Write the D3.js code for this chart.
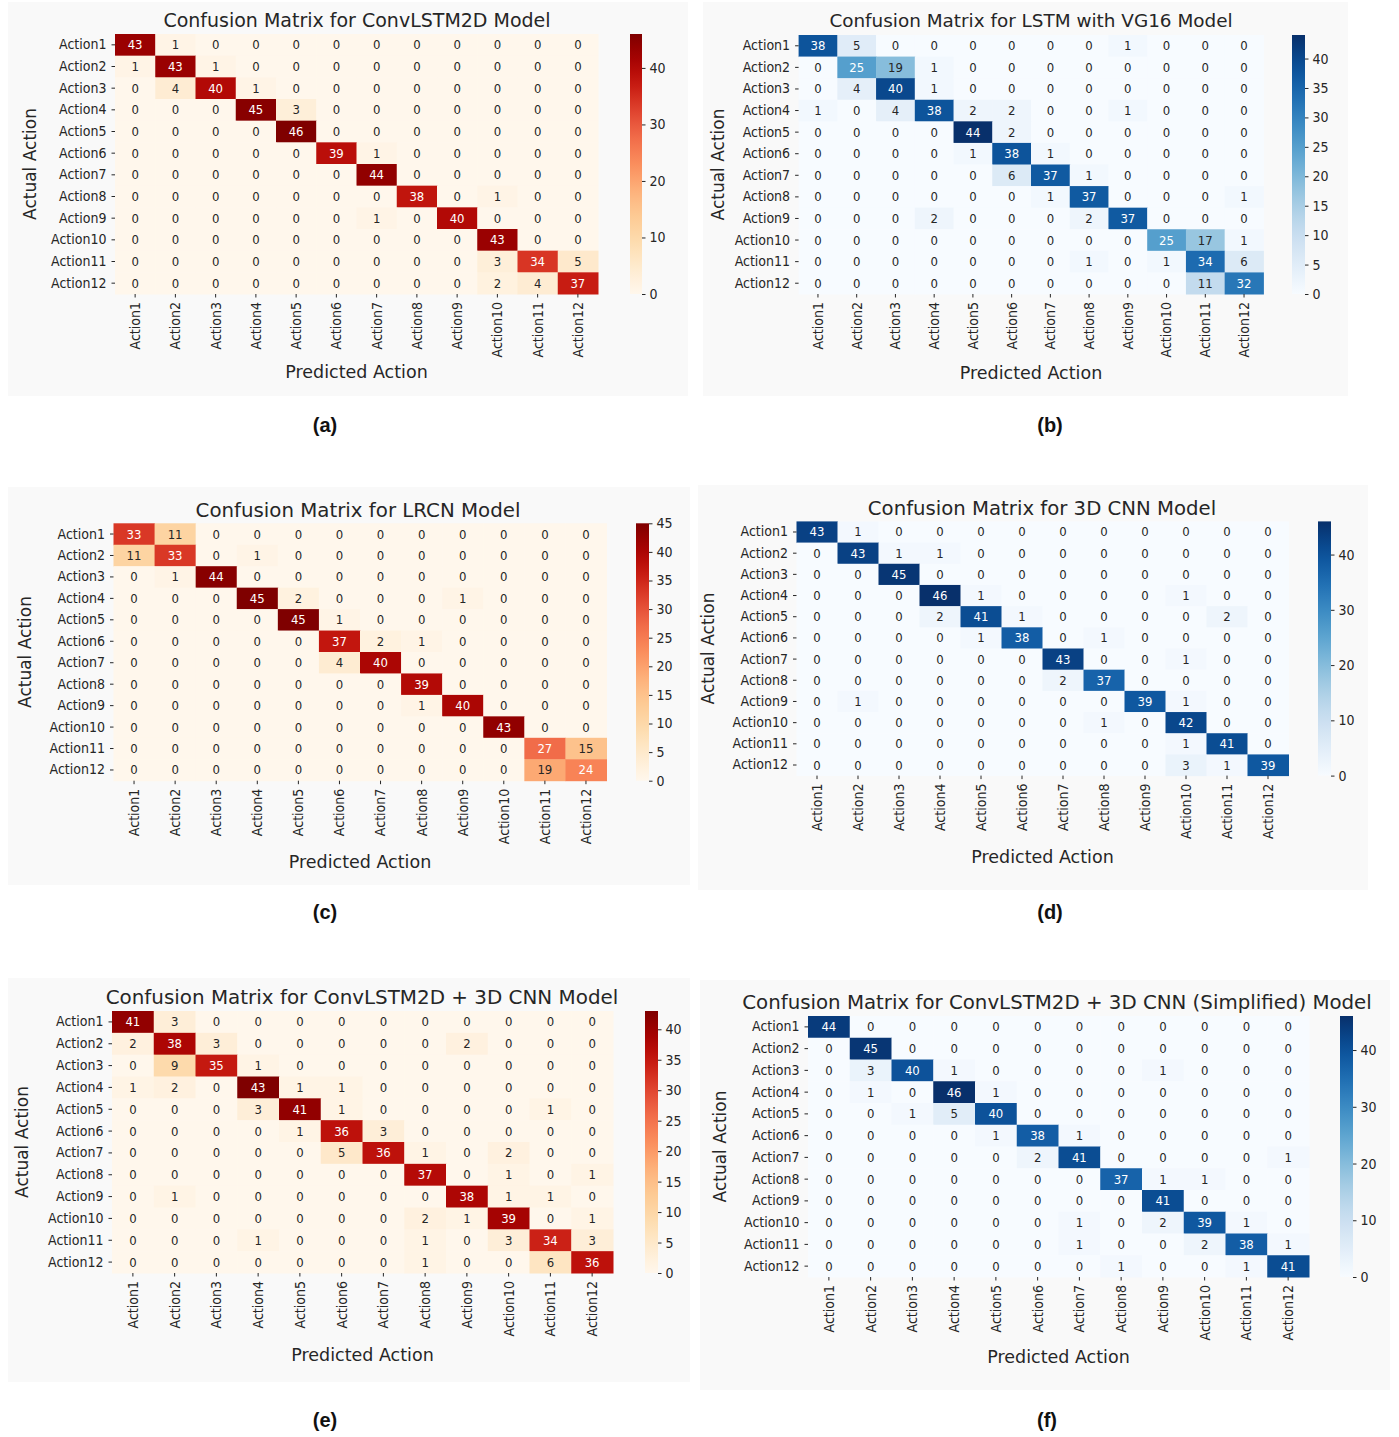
<!DOCTYPE html>
<html lang="en">
<head>
<meta charset="UTF-8">
<title>Confusion Matrices</title>
<script src="https://d3js.org/d3.v7.min.js"></script>
<style>
  body { margin: 0; background: #fff; }
  text { font-family: "DejaVu Sans", sans-serif; fill: #262626; }
  .cond { font-family: "DejaVu Sans Condensed", "DejaVu Sans", sans-serif; font-stretch: condensed; }
  .caption { font-family: "Liberation Sans", Arial, sans-serif; font-weight: bold; font-size: 20px; fill: #111; }
</style>
</head>
<body>
<svg id="fig" width="1399" height="1437"></svg>
<script>
// labels
const actions = ["Action1", "Action2", "Action3", "Action4", "Action5", "Action6",
                 "Action7", "Action8", "Action9", "Action10", "Action11", "Action12"];

// confusion matrices (rows = actual, cols = predicted)
const matConvLSTM = [
  [43,1,0,0,0,0,0,0,0,0,0,0],
  [1,43,1,0,0,0,0,0,0,0,0,0],
  [0,4,40,1,0,0,0,0,0,0,0,0],
  [0,0,0,45,3,0,0,0,0,0,0,0],
  [0,0,0,0,46,0,0,0,0,0,0,0],
  [0,0,0,0,0,39,1,0,0,0,0,0],
  [0,0,0,0,0,0,44,0,0,0,0,0],
  [0,0,0,0,0,0,0,38,0,1,0,0],
  [0,0,0,0,0,0,1,0,40,0,0,0],
  [0,0,0,0,0,0,0,0,0,43,0,0],
  [0,0,0,0,0,0,0,0,0,3,34,5],
  [0,0,0,0,0,0,0,0,0,2,4,37]
];
const matVGG = [
  [38,5,0,0,0,0,0,0,1,0,0,0],
  [0,25,19,1,0,0,0,0,0,0,0,0],
  [0,4,40,1,0,0,0,0,0,0,0,0],
  [1,0,4,38,2,2,0,0,1,0,0,0],
  [0,0,0,0,44,2,0,0,0,0,0,0],
  [0,0,0,0,1,38,1,0,0,0,0,0],
  [0,0,0,0,0,6,37,1,0,0,0,0],
  [0,0,0,0,0,0,1,37,0,0,0,1],
  [0,0,0,2,0,0,0,2,37,0,0,0],
  [0,0,0,0,0,0,0,0,0,25,17,1],
  [0,0,0,0,0,0,0,1,0,1,34,6],
  [0,0,0,0,0,0,0,0,0,0,11,32]
];
const matLRCN = [
  [33,11,0,0,0,0,0,0,0,0,0,0],
  [11,33,0,1,0,0,0,0,0,0,0,0],
  [0,1,44,0,0,0,0,0,0,0,0,0],
  [0,0,0,45,2,0,0,0,1,0,0,0],
  [0,0,0,0,45,1,0,0,0,0,0,0],
  [0,0,0,0,0,37,2,1,0,0,0,0],
  [0,0,0,0,0,4,40,0,0,0,0,0],
  [0,0,0,0,0,0,0,39,0,0,0,0],
  [0,0,0,0,0,0,0,1,40,0,0,0],
  [0,0,0,0,0,0,0,0,0,43,0,0],
  [0,0,0,0,0,0,0,0,0,0,27,15],
  [0,0,0,0,0,0,0,0,0,0,19,24]
];
const mat3DCNN = [
  [43,1,0,0,0,0,0,0,0,0,0,0],
  [0,43,1,1,0,0,0,0,0,0,0,0],
  [0,0,45,0,0,0,0,0,0,0,0,0],
  [0,0,0,46,1,0,0,0,0,1,0,0],
  [0,0,0,2,41,1,0,0,0,0,2,0],
  [0,0,0,0,1,38,0,1,0,0,0,0],
  [0,0,0,0,0,0,43,0,0,1,0,0],
  [0,0,0,0,0,0,2,37,0,0,0,0],
  [0,1,0,0,0,0,0,0,39,1,0,0],
  [0,0,0,0,0,0,0,1,0,42,0,0],
  [0,0,0,0,0,0,0,0,0,1,41,0],
  [0,0,0,0,0,0,0,0,0,3,1,39]
];
const matHybrid = [
  [41,3,0,0,0,0,0,0,0,0,0,0],
  [2,38,3,0,0,0,0,0,2,0,0,0],
  [0,9,35,1,0,0,0,0,0,0,0,0],
  [1,2,0,43,1,1,0,0,0,0,0,0],
  [0,0,0,3,41,1,0,0,0,0,1,0],
  [0,0,0,0,1,36,3,0,0,0,0,0],
  [0,0,0,0,0,5,36,1,0,2,0,0],
  [0,0,0,0,0,0,0,37,0,1,0,1],
  [0,1,0,0,0,0,0,0,38,1,1,0],
  [0,0,0,0,0,0,0,2,1,39,0,1],
  [0,0,0,1,0,0,0,1,0,3,34,3],
  [0,0,0,0,0,0,0,1,0,0,6,36]
];
const matSimplified = [
  [44,0,0,0,0,0,0,0,0,0,0,0],
  [0,45,0,0,0,0,0,0,0,0,0,0],
  [0,3,40,1,0,0,0,0,1,0,0,0],
  [0,1,0,46,1,0,0,0,0,0,0,0],
  [0,0,1,5,40,0,0,0,0,0,0,0],
  [0,0,0,0,1,38,1,0,0,0,0,0],
  [0,0,0,0,0,2,41,0,0,0,0,1],
  [0,0,0,0,0,0,0,37,1,1,0,0],
  [0,0,0,0,0,0,0,0,41,0,0,0],
  [0,0,0,0,0,0,1,0,2,39,1,0],
  [0,0,0,0,0,0,1,0,0,2,38,1],
  [0,0,0,0,0,0,0,1,0,0,1,41]
];

// colorbar tick values
const ticksBy10 = [0, 10, 20, 30, 40];
const ticksBy5 = [0, 5, 10, 15, 20, 25, 30, 35, 40];
const ticksBy5to45 = [0, 5, 10, 15, 20, 25, 30, 35, 40, 45];

const titles = [
  "Confusion Matrix for ConvLSTM2D Model",
  "Confusion Matrix for LSTM with VG16 Model",
  "Confusion Matrix for LRCN Model",
  "Confusion Matrix for 3D CNN Model",
  "Confusion Matrix for ConvLSTM2D + 3D CNN Model",
  "Confusion Matrix for ConvLSTM2D + 3D CNN (Simplified) Model"
];
const captions = ["(a)", "(b)", "(c)", "(d)", "(e)", "(f)"];

// panel layout
const panels = [
  { mat: matConvLSTM, ticks: ticksBy10, cmap: d3.interpolateOrRd,
    bg: [8, 2, 680, 394], left: 115, right: 598, top: 34, bottom: 294, cbx: 630, cbw: 12,
    titleX: 357, titleY: 27, titleSize: 19, yTitleX: 30, xTitleY: 378, capX: 325, capY: 432 },
  { mat: matVGG, ticks: ticksBy5, cmap: d3.interpolateBlues,
    bg: [703, 2, 645, 394], left: 798.6, right: 1263.4, top: 35, bottom: 294, cbx: 1292, cbw: 13,
    titleX: 1031, titleY: 27, titleSize: 18.4, yTitleX: 718, xTitleY: 379, capX: 1050, capY: 432 },
  { mat: matLRCN, ticks: ticksBy5to45, cmap: d3.interpolateOrRd,
    bg: [8, 487, 682, 398], left: 113.5, right: 606.5, top: 523.3, bottom: 780.7, cbx: 636, cbw: 13,
    titleX: 358, titleY: 517, titleSize: 19.8, yTitleX: 25, xTitleY: 868, capX: 325, capY: 919 },
  { mat: mat3DCNN, ticks: ticksBy10, cmap: d3.interpolateBlues,
    bg: [698, 485, 670, 405], left: 796.5, right: 1288.5, top: 521.4, bottom: 775.6, cbx: 1318, cbw: 13,
    titleX: 1042, titleY: 515, titleSize: 19.7, yTitleX: 708, xTitleY: 863, capX: 1050, capY: 919 },
  { mat: matHybrid, ticks: ticksBy5, cmap: d3.interpolateOrRd,
    bg: [8, 978, 682, 404], left: 112, right: 613, top: 1011, bottom: 1273, cbx: 645, cbw: 13,
    titleX: 362, titleY: 1004, titleSize: 19.9, yTitleX: 22, xTitleY: 1361, capX: 325, capY: 1427 },
  { mat: matSimplified, ticks: ticksBy10, cmap: d3.interpolateBlues,
    bg: [700, 980, 690, 410], left: 808, right: 1309, top: 1016, bottom: 1277, cbx: 1340, cbw: 13,
    titleX: 1057, titleY: 1009, titleSize: 19.8, yTitleX: 720, xTitleY: 1363, capX: 1047, capY: 1427 }
];

const svg = d3.select("#fig");
const defs = svg.append("defs");

// seaborn picks annotation colour from cell luminance
function textColor(c) {
  const rgb = d3.rgb(c);
  const lin = v => { v /= 255; return v <= 0.03928 ? v / 12.92 : Math.pow((v + 0.055) / 1.055, 2.4); };
  const lum = 0.2126 * lin(rgb.r) + 0.7152 * lin(rgb.g) + 0.0722 * lin(rgb.b);
  return lum > 0.408 ? "#262626" : "#ffffff";
}

panels.forEach((p, i) => {
  const g = svg.append("g");
  const maxVal = d3.max(p.mat.flat());
  const color = d3.scaleSequential(p.cmap).domain([0, maxVal]);

  g.append("rect")
    .attr("x", p.bg[0]).attr("y", p.bg[1])
    .attr("width", p.bg[2]).attr("height", p.bg[3])
    .attr("fill", "#f9f9f9");

  const x = d3.scaleBand().domain(actions).range([p.left, p.right]);
  const y = d3.scaleBand().domain(actions).range([p.top, p.bottom]);

  const cells = p.mat.flatMap((row, r) => row.map((v, c) => ({ r: actions[r], c: actions[c], v })));

  g.selectAll(".cell")
    .data(cells)
    .enter().append("rect")
    .attr("x", d => x(d.c))
    .attr("y", d => y(d.r))
    .attr("width", x.bandwidth() + 0.5)
    .attr("height", y.bandwidth() + 0.5)
    .attr("fill", d => color(d.v));

  g.selectAll(".annot")
    .data(cells)
    .enter().append("text")
    .attr("class", "cond")
    .attr("x", d => x(d.c) + x.bandwidth() / 2)
    .attr("y", d => y(d.r) + y.bandwidth() / 2)
    .attr("text-anchor", "middle")
    .attr("dominant-baseline", "central")
    .style("font-size", "13px")
    .style("fill", d => textColor(color(d.v)))
    .text(d => d.v);

  // axes
  const yAxis = g.append("g")
    .attr("transform", `translate(${p.left},0)`)
    .call(d3.axisLeft(y).tickSize(3.5).tickPadding(5));
  const xAxis = g.append("g")
    .attr("transform", `translate(0,${p.bottom})`)
    .call(d3.axisBottom(x).tickSize(3.5).tickPadding(3));
  [yAxis, xAxis].forEach(a => {
    a.select(".domain").remove();
    a.selectAll("line").attr("stroke", "#262626");
    a.selectAll("text").attr("class", "cond").style("font-size", "14px").attr("fill", "#262626");
  });
  xAxis.selectAll("text")
    .attr("transform", "rotate(-90)")
    .attr("text-anchor", "end")
    .attr("x", -8)
    .attr("y", 0)
    .attr("dy", "0.35em");

  // titles
  g.append("text")
    .attr("x", p.titleX).attr("y", p.titleY)
    .attr("text-anchor", "middle")
    .style("font-size", p.titleSize + "px")
    .text(titles[i]);

  g.append("text")
    .attr("x", (p.left + p.right) / 2).attr("y", p.xTitleY)
    .attr("text-anchor", "middle")
    .style("font-size", "17.5px")
    .text("Predicted Action");

  g.append("text")
    .attr("transform", `translate(${p.yTitleX},${(p.top + p.bottom) / 2}) rotate(-90)`)
    .attr("text-anchor", "middle")
    .attr("dominant-baseline", "central")
    .style("font-size", "17px")
    .text("Actual Action");

  // colorbar
  const gradId = "grad" + i;
  const grad = defs.append("linearGradient")
    .attr("id", gradId)
    .attr("x1", "0").attr("y1", "1").attr("x2", "0").attr("y2", "0");
  d3.range(0, 1.0001, 0.05).forEach(t => {
    grad.append("stop").attr("offset", t).attr("stop-color", color(t * maxVal));
  });
  g.append("rect")
    .attr("x", p.cbx).attr("y", p.top)
    .attr("width", p.cbw).attr("height", p.bottom - p.top)
    .attr("fill", `url(#${gradId})`);

  const cbScale = d3.scaleLinear().domain([0, maxVal]).range([p.bottom, p.top]);
  const cbAxis = g.append("g")
    .attr("transform", `translate(${p.cbx + p.cbw},0)`)
    .call(d3.axisRight(cbScale).tickValues(p.ticks).tickSize(3.5).tickPadding(4));
  cbAxis.select(".domain").remove();
  cbAxis.selectAll("line").attr("stroke", "#262626");
  cbAxis.selectAll("text").attr("class", "cond").style("font-size", "14px").attr("fill", "#262626");

  // caption
  svg.append("text")
    .attr("class", "caption")
    .attr("x", p.capX).attr("y", p.capY)
    .attr("text-anchor", "middle")
    .text(captions[i]);
});
</script>
</body>
</html>
